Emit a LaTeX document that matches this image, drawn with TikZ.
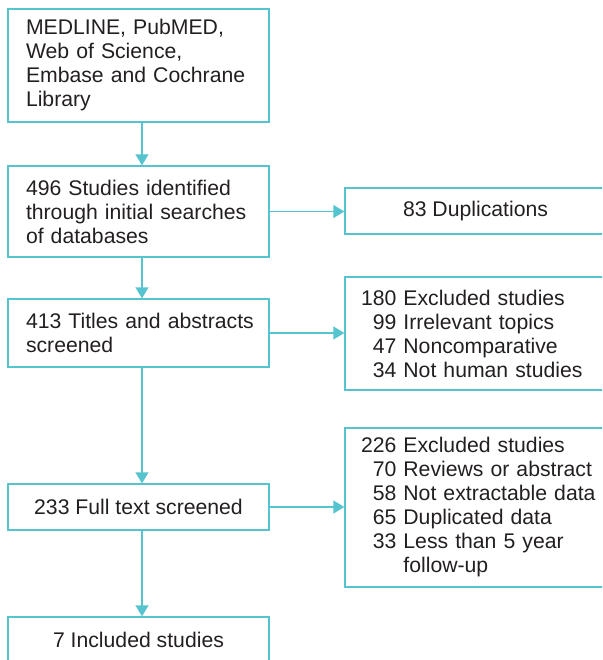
\documentclass[tikz,border=0pt]{standalone}
\usepackage{fontspec}
\setmainfont{Liberation Sans}
\usetikzlibrary{arrows.meta}
\definecolor{tl}{RGB}{86,196,206}
\definecolor{tx}{RGB}{35,31,32}
\begin{document}
\begin{tikzpicture}[x=1pt,y=-1pt,
  box/.style={draw=tl, line width=1.4pt, inner ysep=0pt, text=tx,
    font=\fontsize{21.2}{24}\selectfont},
  lbox/.style={box, inner xsep=18pt, text width=225pt, align=left},
  cbox/.style={box, inner xsep=0pt, minimum width=261pt, align=center},
  rbox/.style={box, inner xsep=16pt, text width=273pt, align=left},
  arr/.style={draw=tl, line width=1.4pt, -{Triangle[width=13pt,length=11pt]}}]
\useasboundingbox (0,0) rectangle (602,660);
\clip (0,0) rectangle (602,660);
\node[lbox, minimum height=113pt] (b1) at (138.5,65.5)
  {\mbox{MEDLINE, PubMED,}\\\mbox{Web of Science,}\\\mbox{Embase and Cochrane}\\Library};
\node[lbox, minimum height=91pt] (b2) at (138.5,211.5)
  {\mbox{496 Studies identified}\\\mbox{through initial searches}\\\mbox{of databases}};
\node[lbox, minimum height=68pt] (b3) at (138.5,333)
  {\mbox{413 Titles and abstracts}\\screened};
\node[cbox, minimum height=46pt] (b4) at (138.5,507) {233 Full text screened};
\node[cbox, minimum height=46pt] (b5) at (138.5,640) {7 Included studies};
\node[cbox, minimum height=46pt] (d) at (475.5,211) {83 Duplications};
\node[rbox, minimum height=113pt] (e1) at (497.5,333.5)
  {180 Excluded studies\\
   \phantom{1}99 Irrelevant topics\\
   \phantom{1}47 Noncomparative\\
   \phantom{1}34 Not human studies};
\node[rbox, minimum height=159pt] (e2) at (497.5,507.5)
  {226 Excluded studies\\
   \phantom{1}70 Reviews or abstract\\
   \phantom{1}58 Not extractable data\\
   \phantom{1}65 Duplicated data\\
   \phantom{1}33 Less than 5 year\\
   \phantom{133 }follow-up};
\draw[arr] ([xshift=3.5pt]b1.south) -- ([xshift=3.5pt]b1.south |- b2.north);
\draw[arr] ([xshift=3.5pt]b2.south) -- ([xshift=3.5pt]b2.south |- b3.north);
\draw[arr] ([xshift=3.5pt]b3.south) -- ([xshift=3.5pt]b3.south |- b4.north);
\draw[arr] ([xshift=3.5pt]b4.south) -- ([xshift=3.5pt]b4.south |- b5.north);
\draw[arr] (b2.east) -- (b2.east -| d.west);
\draw[arr] (b3.east) -- (b3.east -| e1.west);
\draw[arr] (b4.east) -- (b4.east -| e2.west);
\end{tikzpicture}
\end{document}
